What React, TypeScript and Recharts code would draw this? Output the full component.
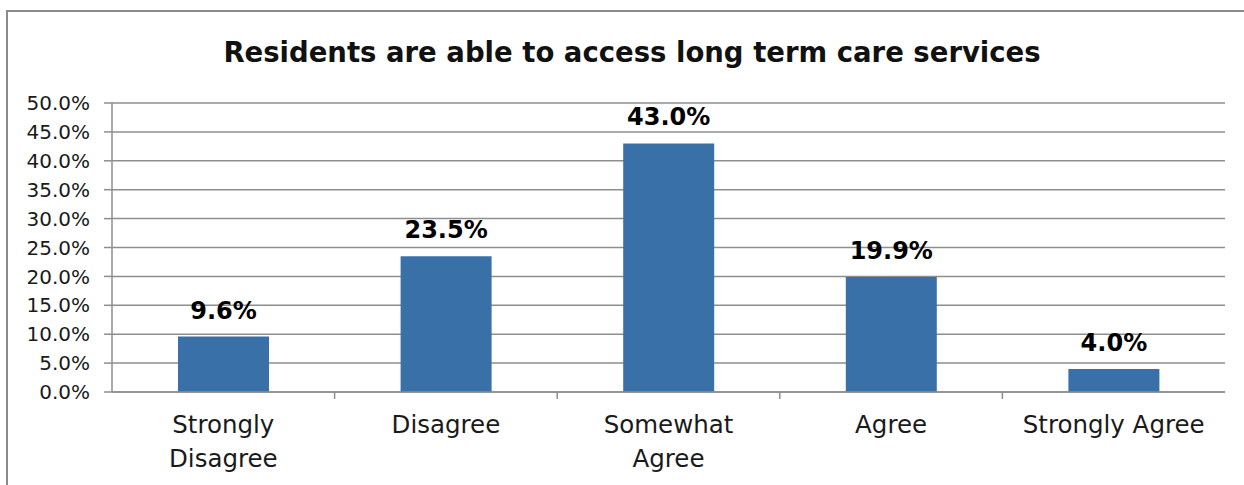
import { BarChart, Bar, XAxis, YAxis, CartesianGrid, LabelList } from 'recharts';

const categories = ['Strongly Disagree', 'Disagree', 'Somewhat Agree', 'Agree', 'Strongly Agree'];
const percents = [9.6, 23.5, 43.0, 19.9, 4.0];
const yTicks = [0, 5, 10, 15, 20, 25, 30, 35, 40, 45, 50];
const wrappedLabels: Record<string, string[]> = {
  'Strongly Disagree': ['Strongly', 'Disagree'],
  'Somewhat Agree': ['Somewhat', 'Agree'],
};

const FONT = '"DejaVu Sans", sans-serif';
const GRID = '#8e8e8e';
const BAR = '#3a70a8';

const data = categories.map((c, i) => ({ label: c, value: percents[i] }));

const W = 1244;
const H = 485;
const PLOT_LEFT = 112;
const PLOT_RIGHT = 1225;
const BAND = (PLOT_RIGHT - PLOT_LEFT) / categories.length;

function CategoryTick(props: any) {
  const { x, y, payload, index } = props;
  const lines = wrappedLabels[payload.value] ?? [payload.value];
  return (
    <g>
      {index < categories.length - 1 && (
        <line x1={x + BAND / 2} x2={x + BAND / 2} y1={y - 8} y2={y - 1} stroke={GRID} strokeWidth={1.5} />
      )}
      {lines.map((l, i) => (
        <text
          key={i}
          x={x}
          y={y + 33 + i * 34}
          textAnchor="middle"
          fontFamily={FONT}
          fontSize={24.5}
          fill="#1a1a1a"
        >
          {l}
        </text>
      ))}
    </g>
  );
}

export default function App() {
  return (
    <div style={{ position: 'absolute', left: 0, top: 0, width: W, height: H, background: '#fff', overflow: 'hidden' }}>
      <div
        style={{
          position: 'absolute',
          left: 6,
          top: 10,
          width: W + 20,
          height: H + 20,
          border: '2px solid #8a8a8a',
          boxSizing: 'border-box',
        }}
      />
      <div
        style={{
          position: 'absolute',
          left: 0,
          top: 36,
          width: 1264,
          textAlign: 'center',
          fontFamily: FONT,
          fontWeight: 'bold',
          fontSize: 27.5,
          color: '#111',
        }}
      >
        Residents are able to access long term care services
      </div>
      <div style={{ position: 'absolute', left: 0, top: 0 }}>
        <BarChart
          width={W}
          height={H}
          data={data}
          margin={{ top: 103, right: W - PLOT_RIGHT, bottom: 0, left: 12 }}
          barCategoryGap="0%"
        >
          <CartesianGrid vertical={false} stroke={GRID} strokeWidth={1.5} />
          <XAxis
            dataKey="label"
            height={93}
            interval={0}
            tickLine={false}
            axisLine={{ stroke: GRID, strokeWidth: 1.5 }}
            tick={<CategoryTick />}
          />
          <YAxis
            width={100}
            domain={[0, 50]}
            ticks={yTicks}
            interval={0}
            tickSize={8}
            tickMargin={14}
            tickLine={{ stroke: GRID, strokeWidth: 1.5 }}
            axisLine={{ stroke: GRID, strokeWidth: 1.5 }}
            tickFormatter={(v: number) => `${v.toFixed(1)}%`}
            tick={{ fontFamily: FONT, fontSize: 20, fill: '#1a1a1a' }}
          />
          <Bar dataKey="value" fill={BAR} barSize={91} isAnimationActive={false}>
            <LabelList
              dataKey="value"
              position="top"
              offset={18}
              formatter={(v: any) => `${Number(v).toFixed(1)}%`}
              style={{ fontFamily: FONT, fontWeight: 'bold', fontSize: 24, fill: '#000' }}
            />
          </Bar>
        </BarChart>
      </div>
    </div>
  );
}
